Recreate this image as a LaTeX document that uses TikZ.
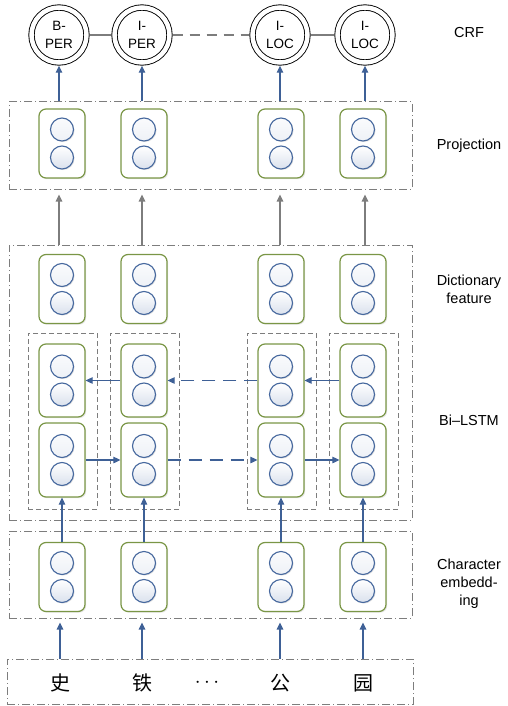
\documentclass[tikz,border=0pt]{standalone}
\usepackage{fontspec}
\setmainfont{Liberation Sans}
\newfontfamily\cjk{Noto Sans CJK SC}
\usetikzlibrary{arrows.meta,shadows}

\definecolor{cellgreen}{RGB}{122,150,70}
\definecolor{unitblue}{RGB}{70,104,158}
\definecolor{unitfill}{RGB}{218,225,237}
\definecolor{arrowblue}{RGB}{62,96,150}
\definecolor{boxgray}{RGB}{125,125,125}

\begin{document}
\begin{tikzpicture}[x=1pt, y=-1pt, >={Triangle[length=7pt,width=6.5pt]}, font=\fontsize{14.5}{18}\selectfont]

% Styles
\tikzstyle{unit} = [draw=unitblue, line width=1.1pt, top color=white, bottom color=unitfill, drop shadow={opacity=0.25, shadow xshift=1pt, shadow yshift=-1pt}]
\tikzstyle{cell} = [draw=cellgreen, line width=1.2pt, rounded corners=7pt, fill=white, minimum width=46pt, minimum height=69pt, inner sep=0pt,
  drop shadow={opacity=0.2, shadow xshift=1.2pt, shadow yshift=-1.2pt},
  path picture={\path[unit] ([yshift=14pt]path picture bounding box.center) circle (11.5pt);
                \path[unit] ([yshift=-14pt]path picture bounding box.center) circle (11.5pt);}]
\tikzstyle{crfnode} = [circle, draw=black, line width=0.9pt, double, double distance=4.5pt, minimum size=55pt, inner sep=0pt, outer sep=3.2pt, align=center, font=\fontsize{13.5}{18}\selectfont]
\tikzstyle{groupbox} = [draw=boxgray, line width=1pt, dash pattern=on 8pt off 3pt on 1pt off 3pt, minimum width=403pt, minimum height=87pt, inner sep=0pt]
\tikzstyle{lstmbox} = [draw=boxgray, line width=1pt, dash pattern=on 5pt off 3pt, minimum width=69pt, minimum height=176pt, inner sep=0pt]
\tikzstyle{flow} = [->, draw=arrowblue, line width=1.1pt]
\tikzstyle{feedup} = [->, draw=boxgray, line width=1.1pt]
\tikzstyle{crflink} = [draw=boxgray, line width=1.1pt]
\tikzstyle{tagtext} = [align=center]

\useasboundingbox (0,0) rectangle (507,706);

% Group boxes
\node[groupbox] (projbox) at (210.5,145.5) {};
\node[groupbox, minimum height=275pt] (bigbox) at (210.5,382.5) {};
\node[groupbox] (embbox) at (210.5,574.5) {};
\node[groupbox, minimum width=406pt, minimum height=45pt] (inbox) at (210,681.5) {};

% Cells
\foreach \c/\x in {1/62,2/144,3/281,4/363}{
  \node[lstmbox] (lstm\c) at (\x+0.5,421) {};
  \node[cell] (proj\c) at (\x,143.5) {};
  \node[cell] (dict\c) at (\x,289) {};
  \node[cell, minimum height=73pt] (bw\c) at (\x,380.5) {};
  \node[cell, minimum height=74pt] (fw\c) at (\x,460) {};
  \node[cell] (emb\c) at (\x,577) {};
}

% CRF layer
\node[crfnode] (crf1) at (59,35) {B-\\PER};
\node[crfnode] (crf2) at (142,35) {I-\\PER};
\node[crfnode] (crf3) at (280,35) {I-\\LOC};
\node[crfnode] (crf4) at (365,35) {I-\\LOC};
\draw[crflink] (crf1) -- (crf2);
\draw[crflink, dash pattern=on 10pt off 7pt] (crf2) -- (crf3);
\draw[crflink] (crf3) -- (crf4);

% Input characters
\node (ch1) at (60,683) {\cjk\fontsize{20}{22}\selectfont 史};
\node (ch2) at (142,683) {\cjk\fontsize{20}{22}\selectfont 铁};
\node (dots) at (207,683) {\fontsize{20}{22}\selectfont $\cdots$};
\node (ch3) at (280,683) {\cjk\fontsize{20}{22}\selectfont 公};
\node (ch4) at (363,683) {\cjk\fontsize{20}{22}\selectfont 园};

% Connections
\foreach \c in {1,2,3,4}{
  \draw[flow] (crf\c |- projbox.north) -- (crf\c.south);
  \draw[feedup, shorten >=5pt] (crf\c |- bigbox.north) -- (crf\c |- projbox.south);
  \draw[flow] (emb\c.north) -- (fw\c.south);
  \draw[flow, shorten >=4pt] (ch\c |- inbox.north) -- (ch\c |- embbox.south);
}
\draw[flow] (fw1) -- (fw2);
\draw[flow, dash pattern=on 13pt off 8pt] (fw2) -- (fw3);
\draw[flow] (fw3) -- (fw4);
\draw[flow] (bw4) -- (bw3);
\draw[flow, dash pattern=on 13pt off 8pt] (bw3) -- (bw2);
\draw[flow] (bw2) -- (bw1);

% Labels
\node[tagtext] (tcrf) at (469,33) {CRF};
\node[tagtext] (tproj) at (469,146) {Projection};
\node[tagtext] (tdict) at (469,289) {Dictionary\\feature};
\node[tagtext] (tlstm) at (469,420) {Bi--LSTM};
\node[tagtext] (temb) at (469,584) {Character\\embedd-\\ing};

\end{tikzpicture}
\end{document}
